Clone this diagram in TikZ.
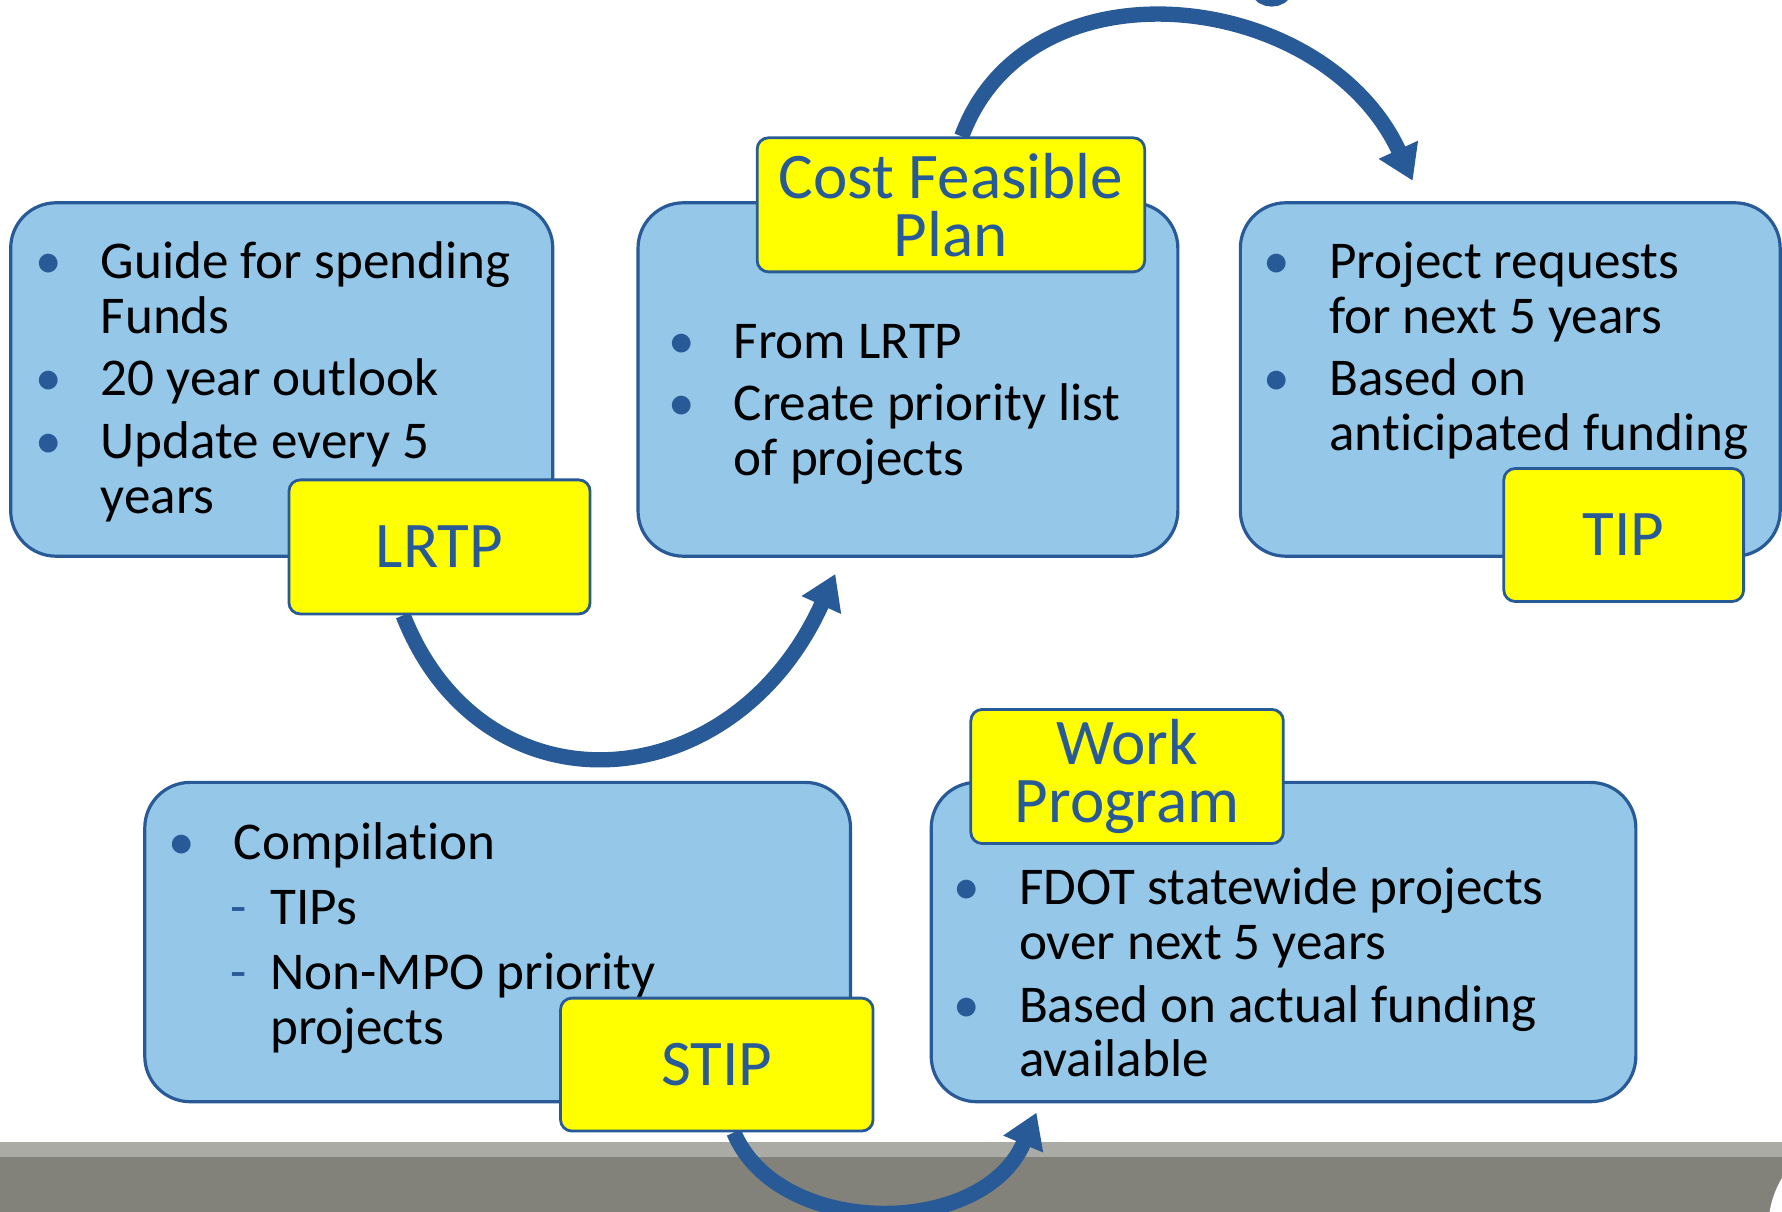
\documentclass[tikz,border=0pt]{standalone}
\usepackage{fontspec}
\setmainfont{Carlito}[Ligatures=NoCommon]
\usetikzlibrary{arrows.meta,positioning,calc}
\definecolor{navy}{RGB}{40,90,152}
\definecolor{skyfill}{RGB}{149,200,232}
\definecolor{tagyellow}{RGB}{255,255,0}
\definecolor{barlight}{RGB}{171,171,165}
\definecolor{bardark}{RGB}{130,130,122}
\newcommand{\bul}{\llap{\textcolor{navy}{\textbullet}\hspace{3.45mm}}}
\newcommand{\subd}{\llap{\textcolor{navy}{-}\hspace{2.1mm}}}
\pgfdeclarelayer{back}
\pgfdeclarelayer{arcs}
\pgfsetlayers{back,arcs,main}
\tikzset{
  panel/.style={draw=navy, line width=0.8pt, fill=skyfill, rounded corners=4mm,
    anchor=north west, inner sep=0pt},
  tag/.style={draw=navy, line width=0.7pt, fill=tagyellow, rounded corners=1mm,
    text=navy, font=\fontsize{16.3}{14.6}\selectfont, align=center,
    anchor=north west, inner sep=0pt},
  notes/.style={font=\fontsize{13.3}{13.7}\selectfont, anchor=base west, inner sep=0pt},
  flowarc/.style={navy, line width=1.35mm, -{Triangle[length=3mm,width=3.6mm]}}
}

\begin{document}
\begin{tikzpicture}[x=0.1mm, y=-0.1mm]
    \useasboundingbox (0,0) rectangle (1568,1066);

    % Floor bar
    \begin{pgfonlayer}{back}
        \fill[white] (0,0) rectangle (1568,1066);
        \fill[barlight] (0,1005) rectangle (1568,1018);
        \fill[bardark] (0,1018) rectangle (1568,1066);
        \fill[white] (1641,1080) circle[radius=8.5mm];
    \end{pgfonlayer}

    % Panels
    \node[panel, minimum width=47.7mm, minimum height=31.1mm] (lrtpbox) at (8,177) {};
    \node[panel, minimum width=47.5mm, minimum height=31.1mm] (cfpbox) at (560,177) {};
    \node[panel, minimum width=47.5mm, minimum height=31.1mm] (tipbox) at (1090,177) {};
    \node[panel, minimum width=62.1mm, minimum height=28.1mm] (stipbox) at (126,687) {};
    \node[panel, minimum width=62.0mm, minimum height=28.1mm] (wpbox) at (818,687) {};

    % Panel texts
    \node[notes] (lrtptxt) at (88,245) {\begin{tabular}[t]{@{}l@{}}
        \bul Guide for spending\\
        Funds\\[2pt]
        \bul 20 year outlook\\[2pt]
        \bul Update every 5\\
        years
    \end{tabular}};
    \node[notes] (cfptxt) at (645,315) {\begin{tabular}[t]{@{}l@{}}
        \bul From LRTP\\[2pt]
        \bul Create priority list\\
        of projects
    \end{tabular}};
    \node[notes] (tiptxt) at (1169,245) {\begin{tabular}[t]{@{}l@{}}
        \bul Project requests\\
        for next 5 years\\[2pt]
        \bul Based on\\
        anticipated funding
    \end{tabular}};
    \node[notes] (stiptxt) at (205,756) {\begin{tabular}[t]{@{}l@{}}
        \bul Compilation\\[2.6pt]
        \hspace*{3.2mm}\subd TIPs\\[2.6pt]
        \hspace*{3.2mm}\subd Non-MPO priority\\
        \hspace*{3.2mm}projects
    \end{tabular}};
    \node[notes] (wptxt) at (896,796) {\begin{tabular}[t]{@{}l@{}}
        \bul FDOT statewide projects\\
        over next 5 years\\[2pt]
        \bul Based on actual funding\\
        available
    \end{tabular}};

    % Tags
    \node[tag, minimum width=26.5mm, minimum height=11.8mm] (lrtp) at (253,421) {LRTP};
    \node[tag, minimum width=34.1mm, minimum height=11.8mm] (cfp) at (665,120) {Cost Feasible\\Plan};
    \node[tag, minimum width=21.1mm, minimum height=11.7mm] (tip) at (1322,411) {TIP};
    \node[tag, minimum width=27.5mm, minimum height=11.7mm] (stip) at (492,877) {STIP};
    \node[tag, minimum width=27.5mm, minimum height=11.8mm] (wp) at (853,623) {Work\\Program};

    % Arrow ends
    \coordinate (tipA) at (735,505);
    \coordinate (tipB) at (1243,159);
    \coordinate (tipC) at (912,979);

    % Cycle arrows
    \begin{pgfonlayer}{arcs}
        \draw[flowarc] ([xshift=-3.2mm]lrtp.south) .. controls (425,720) and (645,705) .. (tipA);
        \draw[flowarc] ([xshift=0.95mm]cfp.north) .. controls (905,-40) and (1165,-10) .. (tipB);
        \draw[flowarc] ([xshift=1.5mm]stip.south) .. controls (685,1090) and (865,1090) .. (tipC);
        \draw[navy, line width=1.35mm] (1106,-10) .. controls (1110,2) and (1128,2) .. (1132,-10);
    \end{pgfonlayer}
\end{tikzpicture}
\end{document}
